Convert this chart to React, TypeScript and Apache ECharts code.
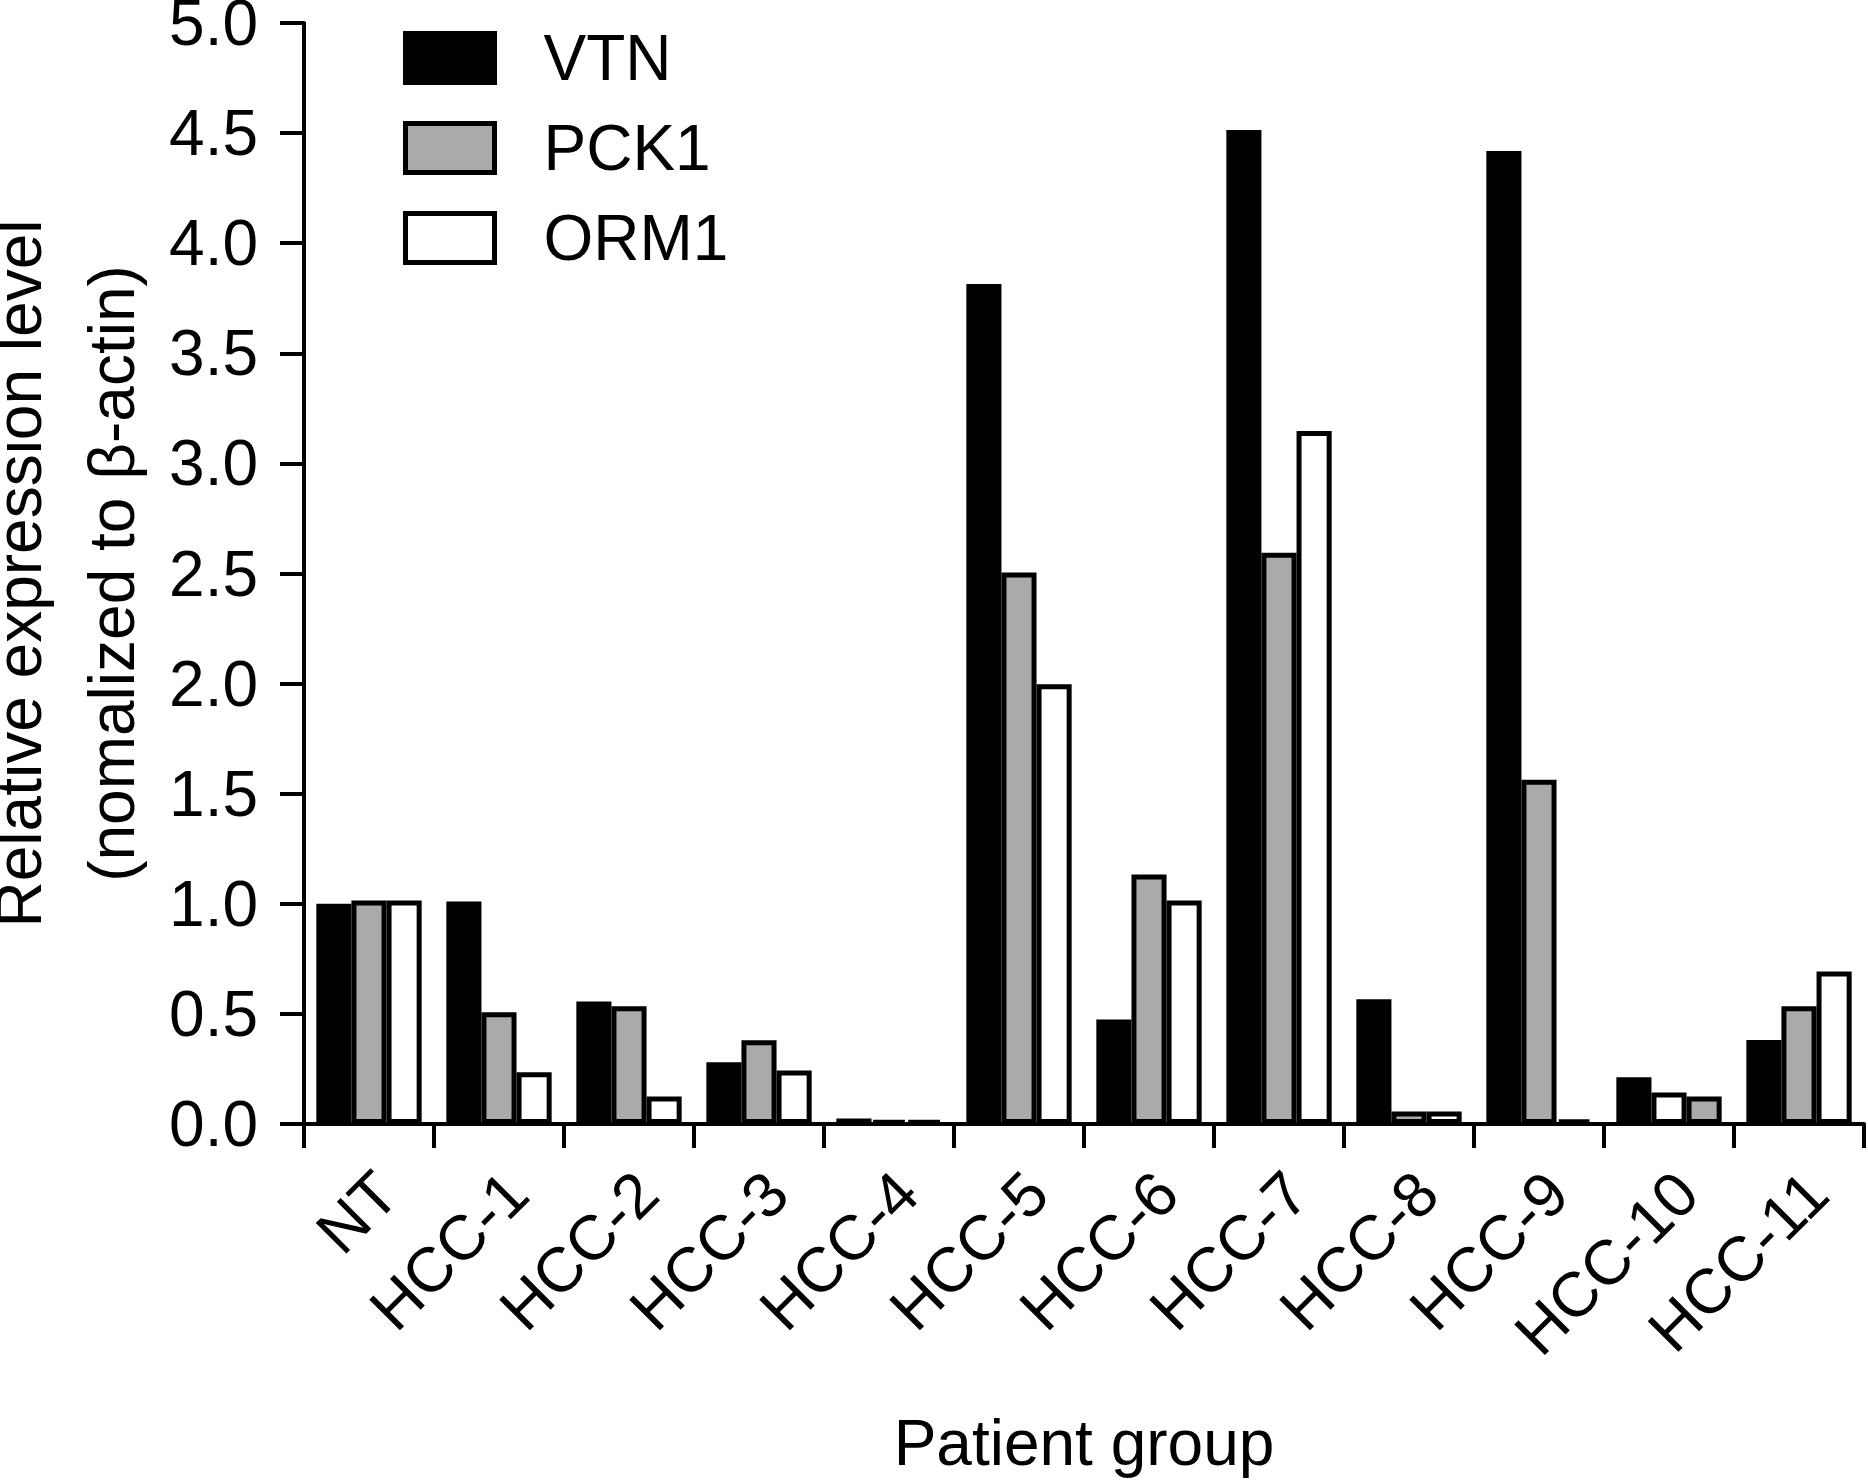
import React, { useEffect, useRef } from "react";
import * as echarts from "echarts";

const categories = ["NT", "HCC-1", "HCC-2", "HCC-3", "HCC-4", "HCC-5", "HCC-6", "HCC-7", "HCC-8", "HCC-9", "HCC-10", "HCC-11"];
const vtnValues = [1.0, 1.01, 0.556, 0.28, 0.025, 3.815, 0.475, 4.514, 0.566, 4.419, 0.212, 0.381];
const pck1Values = [1.015, 0.507, 0.535, 0.38, 0.015, 2.505, 1.133, 2.594, 0.057, 1.563, 0.143, 0.535];
const orm1Values = [1.015, 0.235, 0.125, 0.243, 0.015, 1.997, 1.015, 3.147, 0.057, 0.02, 0.125, 0.692];
const yTicks = [0, 0.5, 1.0, 1.5, 2.0, 2.5, 3.0, 3.5, 4.0, 4.5, 5.0];
const seriesNames = ["VTN", "PCK1", "ORM1"];
// In the reference, HCC-10's second bar is drawn white and third grey
const swappedCategory = "HCC-10";

const FONT = '"Liberation Sans", Arial, Helvetica, sans-serif';
const BLACK = "#000000";
const GREY = "#aaaaaa";
const WHITE = "#ffffff";

export default function App() {
  const ref = useRef<HTMLDivElement>(null);
  useEffect(() => {
    document.body.style.margin = "0";
    if (!ref.current) return;
    const chart = echarts.init(ref.current, null, { renderer: "svg" });
    const swapIdx = categories.indexOf(swappedCategory);
    const mk = (vals: number[], swapColor: string) =>
      vals.map((v, i) => (i === swapIdx ? { value: v, itemStyle: { color: swapColor } } : v));
    const common = {
      type: "bar" as const,
      barGap: "0%",
      barCategoryGap: "19%",
    };
    const border = { borderColor: BLACK, borderWidth: 5 };
    chart.setOption({
      animation: false,
      backgroundColor: "#ffffff",
      textStyle: { fontFamily: FONT, color: BLACK },
      grid: { left: 304, right: 4, top: 23, bottom: 357, containLabel: false, outerBoundsMode: "none" },
      legend: {
        data: seriesNames,
        orient: "vertical",
        left: 403,
        top: 26,
        padding: 0,
        icon: "rect",
        itemWidth: 89,
        itemHeight: 49,
        itemGap: 26,
        itemStyle: { borderColor: BLACK, borderWidth: 5 },
        textStyle: { fontFamily: FONT, fontSize: 64, color: BLACK, lineHeight: 49, padding: [0, 0, 0, 44] },
      },
      xAxis: {
        type: "category",
        data: categories,
        boundaryGap: true,
        name: "Patient group",
        nameLocation: "middle",
        nameGap: 287,
        nameTextStyle: { fontFamily: FONT, fontSize: 64, color: BLACK },
        axisLine: { show: true, lineStyle: { color: BLACK, width: 4 } },
        axisTick: { show: true, length: 24, lineStyle: { color: BLACK, width: 4 }, interval: 0 },
        axisLabel: {
          rotate: 45,
          interval: 0,
          fontFamily: FONT,
          fontSize: 63,
          color: BLACK,
          margin: 76,
          padding: [0, -25, 0, 0],
        },
        splitLine: { show: false },
      },
      yAxis: {
        type: "value",
        min: yTicks[0],
        max: yTicks[yTicks.length - 1],
        interval: 0.5,
        name: "Relative expression level\n(nomalized to β-actin)",
        nameLocation: "middle",
        nameRotate: 90,
        nameGap: 138,
        nameTextStyle: { fontFamily: FONT, fontSize: 64, color: BLACK, lineHeight: 93 },
        axisLine: { show: true, lineStyle: { color: BLACK, width: 4 } },
        axisTick: { show: true, length: 24, lineStyle: { color: BLACK, width: 4 } },
        axisLabel: {
          fontFamily: FONT,
          fontSize: 64,
          color: BLACK,
          margin: 46,
          formatter: (v: number) => v.toFixed(1),
        },
        splitLine: { show: false },
      },
      series: [
        { ...common, name: seriesNames[0], data: vtnValues, itemStyle: { ...border, color: BLACK } },
        { ...common, name: seriesNames[1], data: mk(pck1Values, WHITE), itemStyle: { ...border, color: GREY } },
        { ...common, name: seriesNames[2], data: mk(orm1Values, GREY), itemStyle: { ...border, color: WHITE } },
      ],
    });
    return () => chart.dispose();
  }, []);
  return <div ref={ref} style={{ width: 1868, height: 1481 }} />;
}
